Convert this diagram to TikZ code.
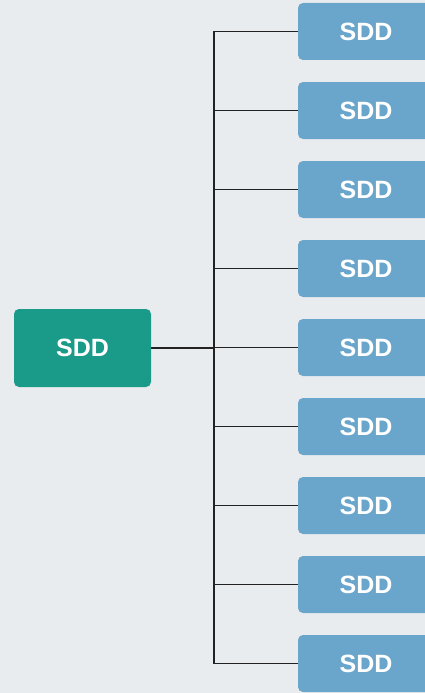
\documentclass[tikz,border=0pt]{standalone}
\usepackage{fontspec}
\setmainfont{Liberation Sans}
\definecolor{bgcol}{HTML}{E9ECEE}
\definecolor{rootcol}{HTML}{1A9A88}
\definecolor{leafcol}{HTML}{6AA5CB}
\definecolor{linecol}{HTML}{222222}
\tikzset{
  box/.style={rounded corners=5pt, text=white, font=\bfseries\fontsize{25}{30}\selectfont, inner sep=0pt},
  rootbox/.style={box, fill=rootcol, minimum width=137pt, minimum height=78pt},
  leafbox/.style={box, fill=leafcol, minimum width=136pt, minimum height=57pt},
  link/.style={draw=linecol, line width=1.8pt}
}
\begin{document}
\begin{tikzpicture}[x=1pt,y=-1pt]
  % Background
  \fill[bgcol] (0,0) rectangle (425,693);
  \useasboundingbox (0,0) rectangle (425,693);
  \clip (0,0) rectangle (425,693);
  % Root and leaves
  \node[rootbox] (root) at (82.5,348) {SDD};
  \coordinate (fork) at (214,348);
  \foreach \i in {1,...,9} {
    \node[leafbox] (leaf\i) at (366,{31.5+79*(\i-1)}) {SDD};
    \coordinate (turn\i) at (214,{31.5+79*(\i-1)});
  }
  % Connectors
  \draw[link] (root.east) -- (fork);
  \draw[link] (turn1) -- (turn9);
  \foreach \i in {1,...,9}
    \draw[link] (turn\i) -- (leaf\i.west);
\end{tikzpicture}
\end{document}
